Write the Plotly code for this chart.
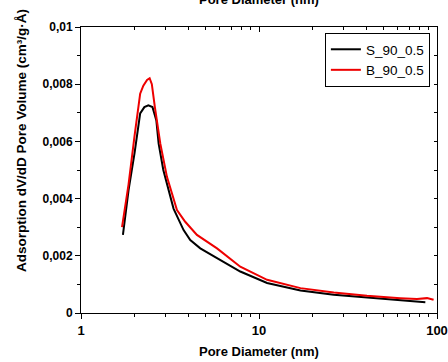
import plotly.graph_objects as go

# Pore size distributions (BJH adsorption branch)
diam_s = [1.72, 1.85, 2.00, 2.15, 2.27, 2.39, 2.52, 2.65, 2.73, 2.90, 3.31, 3.77, 4.11, 4.68,
          5.81, 7.85, 11.1, 17.1, 26.3, 40.4, 62.2, 75.0, 86.0]
dvdd_s = [0.00273, 0.00430, 0.00560, 0.00698, 0.00720, 0.00726, 0.00720, 0.00673, 0.00592,
          0.00500, 0.00365, 0.00290, 0.00255, 0.00226, 0.00192, 0.00145, 0.00105, 0.00079,
          0.00064, 0.00054, 0.00046, 0.00042, 0.00038]

diam_b = [1.70, 1.85, 2.00, 2.15, 2.24, 2.35, 2.43, 2.50, 2.60, 2.79, 3.04, 3.46, 3.85, 4.48,
          5.81, 7.85, 11.1, 17.1, 26.3, 40.4, 62.2, 77.2, 87.9, 95.7]
dvdd_b = [0.00300, 0.00450, 0.00620, 0.00767, 0.00795, 0.00815, 0.00821, 0.00800, 0.00720,
          0.00592, 0.00476, 0.00360, 0.00319, 0.00273, 0.00226, 0.00162, 0.00116, 0.00087,
          0.00072, 0.00060, 0.00052, 0.00049, 0.00052, 0.00046]

series_names = ["S_90_0.5", "B_90_0.5"]

y_ticks = [0, 0.002, 0.004, 0.006, 0.008, 0.01]
y_ticktext = ["0", "0,002", "0,004", "0,006", "0,008", "0,01"]
y_minor = [0.001, 0.003, 0.005, 0.007, 0.009]
x_ticks = [1, 10, 100]
x_ticktext = ["1", "10", "100"]
x_minor = [2, 3, 4, 5, 6, 7, 8, 9, 20, 30, 40, 50, 60, 70, 80, 90]

FONT = "Liberation Sans, Arial, sans-serif"

fig = go.Figure()
fig.add_trace(go.Scatter(x=diam_s, y=dvdd_s, mode="lines", name=series_names[0],
                         line=dict(color="black", width=2)))
fig.add_trace(go.Scatter(x=diam_b, y=dvdd_b, mode="lines", name=series_names[1],
                         line=dict(color="#ee0000", width=2)))
# empty trace so the mirrored top/right frame axes get drawn
fig.add_trace(go.Scatter(x=[], y=[], xaxis="x2", yaxis="y2", mode="lines",
                         showlegend=False, hoverinfo="skip"))

fig.update_layout(
    width=448, height=362,
    margin=dict(l=81, r=11, t=27, b=49),
    paper_bgcolor="white", plot_bgcolor="white",
    showlegend=True,
    legend=dict(x=0.98, y=0.979, xanchor="right", yanchor="top",
                bordercolor="black", borderwidth=1, bgcolor="white",
                font=dict(family=FONT, size=13.5, color="black"),
                tracegroupgap=0, itemwidth=30),
    xaxis=dict(type="log", range=[0, 2], showgrid=False, zeroline=False,
               showline=True, linecolor="black", linewidth=1, automargin=False,
               ticks="outside", ticklen=5, tickcolor="black",
               tickvals=x_ticks, ticktext=x_ticktext,
               tickfont=dict(family=FONT, size=13, color="black", weight="bold"),
               minor=dict(tickvals=x_minor, ticks="outside", ticklen=3, tickcolor="black")),
    yaxis=dict(range=[0, 0.01], showgrid=False, zeroline=False, automargin=False,
               showline=True, linecolor="black", linewidth=1,
               ticks="outside", ticklen=5, tickcolor="black",
               tickvals=y_ticks, ticktext=y_ticktext,
               tickfont=dict(family=FONT, size=12, color="black", weight="bold"),
               minor=dict(tickvals=y_minor, ticks="outside", ticklen=3, tickcolor="black")),
    xaxis2=dict(type="log", range=[0, 2], overlaying="x", side="top", anchor="y",
                showgrid=False, zeroline=False, showline=True, linecolor="black",
                automargin=False,
                ticks="inside", ticklen=5, tickcolor="black", tickvals=x_ticks,
                showticklabels=False,
                minor=dict(tickvals=x_minor, ticks="inside", ticklen=3, tickcolor="black")),
    yaxis2=dict(range=[0, 0.01], overlaying="y", side="right", anchor="x",
                showgrid=False, zeroline=False, showline=True, linecolor="black",
                automargin=False,
                ticks="inside", ticklen=3, tickcolor="black", tickvals=y_ticks,
                showticklabels=False,
                minor=dict(tickvals=y_minor, ticks="inside", ticklen=3, tickcolor="black")),
)

title_font = dict(family=FONT, size=13, color="black", weight="bold")
fig.add_annotation(text="Pore Diameter (nm)", xref="paper", yref="paper",
                   x=0.5, y=-0.135, xanchor="center", yanchor="middle",
                   showarrow=False, font=title_font)
fig.add_annotation(text="Pore Diameter (nm)", xref="paper", yref="paper",
                   x=0.5, y=1.095, xanchor="center", yanchor="middle",
                   showarrow=False, font=title_font)
fig.add_annotation(text="Adsorption dV/dD Pore Volume (cm³/g·Å)", xref="paper", yref="paper",
                   x=-0.165, y=0.602, xanchor="center", yanchor="middle", textangle=-90,
                   showarrow=False, font=dict(family=FONT, size=13.5, color="black", weight="bold"))

fig.write_html("out.html")
